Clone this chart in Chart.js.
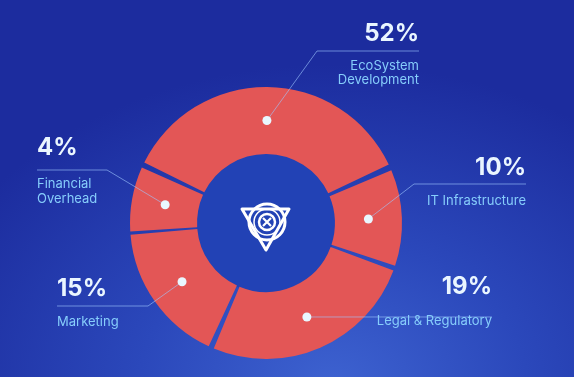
<!DOCTYPE html>
<html>
<head>
<meta charset="utf-8">
<script src="https://cdn.jsdelivr.net/npm/chart.js@4.4.1/dist/chart.umd.min.js"></script>
<style>
    html, body { margin: 0; padding: 0; }
    body {
        width: 574px;
        height: 377px;
        overflow: hidden;
        background: #1c2c9e radial-gradient(ellipse 75% 85% at 58% 102%, #3d62d0 0%, #2b48bb 45%, rgba(29, 46, 162, 0) 100%);
    }
    .wrap { position: relative; width: 574px; height: 377px; }
</style>
</head>
<body>
<div class="wrap"><canvas id="allocChart" width="574" height="377"></canvas></div>
<script>
const categories = ['EcoSystem Development', 'IT Infrastructure', 'Legal & Regulatory', 'Marketing', 'Financial Overhead'];
const percentValues = [52, 10, 19, 15, 4];
// slice sizes as they are drawn in the graphic (degrees of arc) - they don't follow the percentages
const sliceArcs = [132, 42.5, 95, 62, 28.5];
const labelLines = [['EcoSystem', 'Development'], ['IT Infrastructure'], ['Legal & Regulatory'], ['Marketing'], ['Financial', 'Overhead']];

// where each callout sits (lineY null = straight line from the dot)
const callouts = [
    { align: 'right', x: 419, pctY: 41, lineY: 51, elbowX: 317, textY: [70, 84] },
    { align: 'right', x: 526, pctY: 175, lineY: 184, elbowX: 414, textY: [205] },
    { align: 'right', x: 492, pctY: 294, lineY: null, elbowX: null, textY: [325] },
    { align: 'left', x: 57, pctY: 296, lineY: 306, elbowX: 148, textY: [326] },
    { align: 'left', x: 37, pctY: 155, lineY: 170, elbowX: 107, textY: [188, 203] }
];

const FONT = 'Inter, "Open Sans", sans-serif';

function drawLogo(ctx, cx, cy) {
    ctx.save();
    ctx.strokeStyle = '#ffffff';
    ctx.lineJoin = 'round';
    // triangle
    ctx.lineWidth = 3;
    ctx.beginPath();
    ctx.moveTo(cx - 24, cy - 14);
    ctx.lineTo(cx + 23, cy - 14);
    ctx.lineTo(cx, cy + 27);
    ctx.closePath();
    ctx.stroke();
    // ring
    ctx.lineWidth = 3;
    ctx.beginPath();
    ctx.arc(cx + 1, cy - 1, 18, 0, Math.PI * 2);
    ctx.stroke();
    ctx.lineWidth = 1.5;
    ctx.beginPath();
    ctx.arc(cx + 1, cy - 1, 13, 0, Math.PI * 2);
    ctx.stroke();
    // inner coin
    ctx.lineWidth = 2.5;
    ctx.beginPath();
    ctx.arc(cx + 1, cy - 1, 8, 0, Math.PI * 2);
    ctx.stroke();
    ctx.lineWidth = 2.2;
    ctx.beginPath();
    ctx.moveTo(cx - 3, cy - 5); ctx.lineTo(cx + 5, cy + 3);
    ctx.moveTo(cx + 5, cy - 5); ctx.lineTo(cx - 3, cy + 3);
    ctx.stroke();
    ctx.restore();
}

const calloutPlugin = {
    id: 'callouts',
    beforeDatasetsDraw(chart) {
        const arc = chart.getDatasetMeta(0).data[0];
        const ctx = chart.ctx;
        ctx.save();
        ctx.fillStyle = '#2242b5';
        ctx.beginPath();
        ctx.arc(arc.x, arc.y, arc.innerRadius + 4, 0, Math.PI * 2);
        ctx.fill();
        ctx.restore();
    },
    afterDatasetsDraw(chart) {
        const ctx = chart.ctx;
        const arcs = chart.getDatasetMeta(0).data;
        ctx.save();
        arcs.forEach((arc, i) => {
            const c = callouts[i];
            const p = arc.tooltipPosition();
            const lineY = c.lineY === null ? p.y : c.lineY;

            ctx.strokeStyle = 'rgba(160, 200, 255, 0.6)';
            ctx.lineWidth = 1;
            ctx.beginPath();
            ctx.moveTo(p.x, p.y);
            if (c.elbowX !== null) ctx.lineTo(c.elbowX, lineY);
            ctx.lineTo(c.x, lineY);
            ctx.stroke();

            ctx.fillStyle = '#e9f7ff';
            ctx.beginPath();
            ctx.arc(p.x, p.y, 4.5, 0, Math.PI * 2);
            ctx.fill();

            ctx.textAlign = c.align;
            ctx.textBaseline = 'alphabetic';
            ctx.fillStyle = '#eaf6ff';
            ctx.font = '700 24px ' + FONT;
            ctx.fillText(percentValues[i] + '%', c.x, c.pctY);

            ctx.fillStyle = '#86cdfb';
            ctx.font = '400 13px ' + FONT;
            labelLines[i].forEach((line, j) => ctx.fillText(line, c.x, c.textY[j]));
        });
        drawLogo(ctx, arcs[0].x, arcs[0].y);
        ctx.restore();
    }
};

const chart = new Chart(document.getElementById('allocChart'), {
    type: 'doughnut',
    data: {
        labels: categories,
        datasets: [{
            data: sliceArcs,
            backgroundColor: '#e35656',
            borderWidth: 0,
            spacing: 6,
            hoverOffset: 0
        }]
    },
    options: {
        responsive: false,
        animation: false,
        events: [],
        rotation: -65.5,
        cutout: '49.6%',
        layout: { padding: { left: 130, top: 87, right: 172, bottom: 18 } },
        plugins: {
            legend: { display: false },
            tooltip: { enabled: false }
        }
    },
    plugins: [calloutPlugin]
});
</script>
</body>
</html>
